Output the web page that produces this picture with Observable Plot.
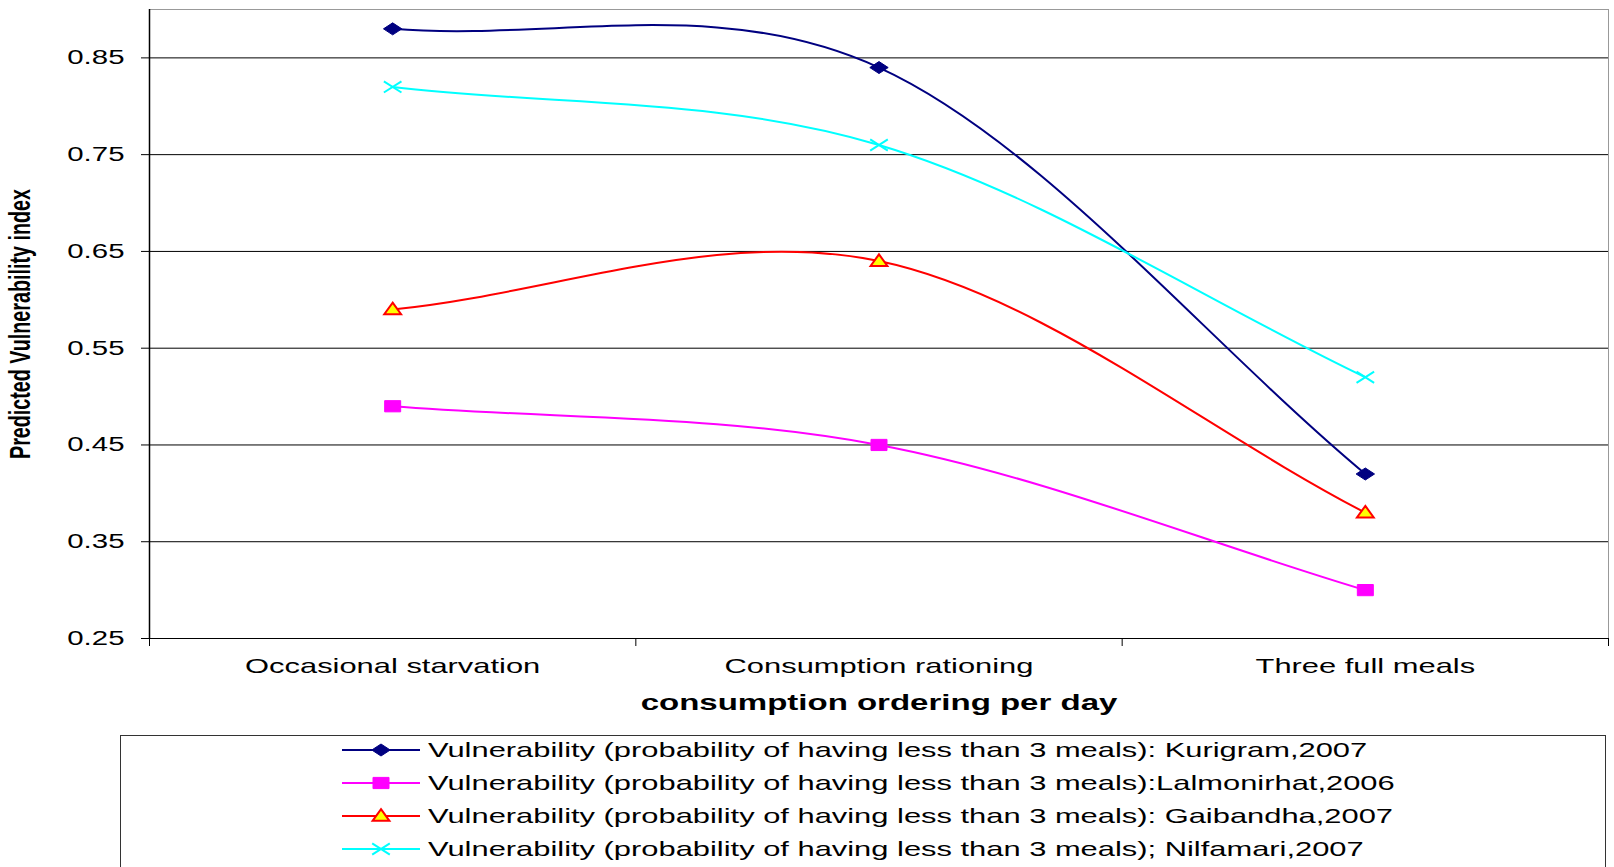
<!DOCTYPE html>
<html><head><meta charset="utf-8">
<script src="https://cdn.jsdelivr.net/npm/d3@7"></script>
<script src="https://cdn.jsdelivr.net/npm/@observablehq/plot@0.6"></script>
<style>
body{margin:0;background:#fff;font-family:"Liberation Sans",Arial,sans-serif;}
#chart svg, #legend svg{display:block;}
</style></head><body><div id="chart"></div><div id="legend"></div><script>
// ---- data ----
const categories = ["Occasional starvation", "Consumption rationing", "Three full meals"];
const seriesNames = [
  "Vulnerability (probability of having less than 3 meals): Kurigram,2007",
  "Vulnerability (probability of having less than 3 meals):Lalmonirhat,2006",
  "Vulnerability (probability of having less than 3 meals): Gaibandha,2007",
  "Vulnerability (probability of having less than 3 meals); Nilfamari,2007"
];
const kurigram    = [0.88, 0.84, 0.42];
const lalmonirhat = [0.49, 0.45, 0.30];
const gaibandha   = [0.59, 0.64, 0.38];
const nilfamari   = [0.82, 0.76, 0.52];
const yTicks = [0.25, 0.35, 0.45, 0.55, 0.65, 0.75, 0.85];
const xLabel = "consumption ordering per day";
const yLabel = "Predicted Vulnerability index";

// ---- symbols (horizontally stretched look) ----
const rOf = size => Math.sqrt(size / Math.PI);
const diamondW = {draw(c, s){const r=rOf(s), w=r*1.15, h=r*0.75; c.moveTo(-w,0); c.lineTo(0,-h); c.lineTo(w,0); c.lineTo(0,h); c.closePath();}};
const squareW  = {draw(c, s){const r=rOf(s), w=r*1.0, h=r*0.7; c.moveTo(-w,-h); c.lineTo(w,-h); c.lineTo(w,h); c.lineTo(-w,h); c.closePath();}};
const triW     = {draw(c, s){const r=rOf(s), w=r*1.05, t=r*0.85, b=r*0.6; c.moveTo(0,-t); c.lineTo(w,b); c.lineTo(-w,b); c.closePath();}};
const crossW   = {draw(c, s){const r=rOf(s), w=r*1.1, h=r*0.7; c.moveTo(-w,-h); c.lineTo(w,h); c.moveTo(w,-h); c.lineTo(-w,h);}};

const seriesValues = [kurigram, lalmonirhat, gaibandha, nilfamari];
const styles = [
  {color:"#000080", symbol: diamondW, fill:"#000080", stroke:"#000080", sw:1},
  {color:"#FF00FF", symbol: squareW, fill:"#FF00FF", stroke:"#FF00FF", sw:1},
  {color:"#FF0000", symbol: triW, fill:"#FFFF00", stroke:"#FF0000", sw:2},
  {color:"#00FFFF", symbol: crossW, fill:"none", stroke:"#00FFFF", sw:2}
];
const rows = seriesValues.map((vals, s) => vals.map((v, i) => ({series: seriesNames[s], i, value: v})));

// Spreadsheet-style smoothing: uniform Catmull-Rom with reflected end points
function SmoothCurve(context){ this._context = context; }
SmoothCurve.prototype = {
  areaStart(){ this._line = 0; },
  areaEnd(){ this._line = NaN; },
  lineStart(){ this._pts = []; },
  lineEnd(){
    const p = this._pts, c = this._context, n = p.length;
    if (!n) return;
    c.moveTo(p[0][0], p[0][1]);
    if (n === 2) { c.lineTo(p[1][0], p[1][1]); return; }
    for (let i = 0; i < n - 1; i++) {
      const a = i > 0 ? p[i - 1] : [2 * p[0][0] - p[1][0], 2 * p[0][1] - p[1][1]];
      const b = p[i], d = p[i + 1];
      const e = i + 2 < n ? p[i + 2] : [2 * p[n - 1][0] - p[n - 2][0], 2 * p[n - 1][1] - p[n - 2][1]];
      c.bezierCurveTo(b[0] + (d[0] - a[0]) / 6, b[1] + (d[1] - a[1]) / 6,
                      d[0] - (e[0] - b[0]) / 6, d[1] - (e[1] - b[1]) / 6, d[0], d[1]);
    }
  },
  point(x, y){ this._pts.push([+x, +y]); }
};
const smooth = ctx => new SmoothCurve(ctx);

const marks = [
  Plot.frame({stroke: "#999"}),
  Plot.ruleY(yTicks, {stroke: "#000", strokeWidth: 1}),
  Plot.ruleX([-0.5], {stroke: "#000", strokeWidth: 1.5}),
  Plot.axisY({ticks: yTicks, tickFormat: d3.format(".2f"), tickSize: 8, tickPadding: 17, fontSize: 20, label: null}),
  Plot.axisX({ticks: [-0.5, 0.5, 1.5, 2.5], tickSize: 8, tickFormat: () => "", label: null}),
  Plot.axisX({ticks: [0, 1, 2], tickSize: 0, tickPadding: 20, fontSize: 21, tickFormat: i => categories[i], label: null}),
  Plot.text([xLabel], {text: d => d, frameAnchor: "bottom", textAnchor: "middle", dy: 71, fontSize: 22, fontWeight: "bold"}),
  Plot.text([yLabel], {text: d => d, frameAnchor: "left", textAnchor: "middle", rotate: -90, dx: -129, fontSize: 29, fontWeight: "bold"})
];
rows.forEach((data, s) => {
  const st = styles[s];
  marks.push(Plot.line(data, {x: "i", y: "value", stroke: st.color, strokeWidth: 2, curve: smooth}));
});
rows.forEach((data, s) => {
  const st = styles[s];
  marks.push(Plot.dot(data, {x: "i", y: "value", symbol: st.symbol, r: 8, fill: st.fill, stroke: st.stroke, strokeWidth: st.sw}));
});

const chart = Plot.plot({
  width: 1614, height: 730,
  marginLeft: 149, marginRight: 6, marginTop: 9, marginBottom: 92,
  x: {type: "linear", domain: [-0.5, 2.5], axis: null},
  y: {domain: [0.25, 0.9], axis: null},
  style: {fontFamily: "'Liberation Sans', Arial, sans-serif", fontSize: "20px", color: "#000", background: "#fff"},
  marks
});
document.getElementById("chart").appendChild(chart);

const K = 1.47;
function stretchTexts(svg){
  svg.querySelectorAll("text").forEach(t => {
    const s = t.textContent;
    if (!s) return;
    const L = t.getComputedTextLength();
    if (!L) return;
    const k = s === yLabel ? 1 / K : s === xLabel ? 1.5 : K;
    t.setAttribute("textLength", L * k);
    t.setAttribute("lengthAdjust", "spacingAndGlyphs");
  });
}
stretchTexts(chart);

// ---- legend ----
const lg = d3.select("#legend").append("svg").attr("width", 1614).attr("height", 137)
  .style("font-family", "'Liberation Sans', Arial, sans-serif");
lg.append("rect").attr("x", 120.5).attr("y", 5.5).attr("width", 1485).attr("height", 300)
  .attr("fill", "#fff").attr("stroke", "#333").attr("stroke-width", 1);
seriesNames.forEach((name, s) => {
  const st = styles[s];
  const g = lg.append("g").attr("transform", `translate(0,${20 + s * 33})`);
  g.append("line").attr("x1", 342).attr("x2", 420).attr("stroke", st.color).attr("stroke-width", 2);
  g.append("path").attr("transform", "translate(381,0)")
    .attr("d", d3.symbol(st.symbol, Math.PI * 64)())
    .attr("fill", st.fill).attr("stroke", st.stroke).attr("stroke-width", st.sw);
  g.append("text").attr("x", 428).attr("dy", "0.35em").attr("font-size", 21).attr("fill", "#000").text(name);
});
stretchTexts(lg.node());
</script></body></html>
